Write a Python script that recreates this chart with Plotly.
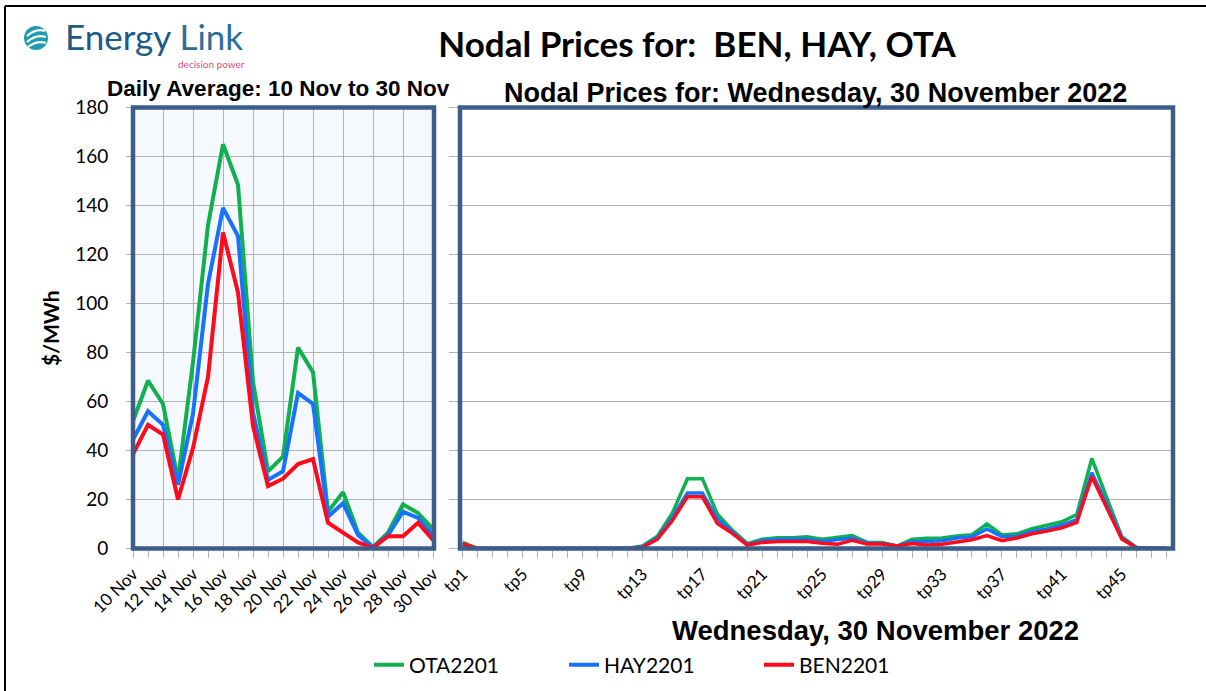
import plotly.graph_objects as go

W, H = 1206, 691


def px(x):
    return x / W


def py(y):
    return 1 - y / H


# ---------------- data ----------------
days = ["10 Nov", "11 Nov", "12 Nov", "13 Nov", "14 Nov", "15 Nov", "16 Nov",
        "17 Nov", "18 Nov", "19 Nov", "20 Nov", "21 Nov", "22 Nov", "23 Nov",
        "24 Nov", "25 Nov", "26 Nov", "27 Nov", "28 Nov", "29 Nov", "30 Nov"]
ota_daily = [52, 68.5, 59, 28, 76, 132, 165, 148.5, 68, 31.5, 37.5, 82, 72,
             15, 23, 6.5, 0.5, 6.5, 18, 14.5, 8]
hay_daily = [44.5, 56, 50.5, 26, 55, 108, 139, 127.5, 55.5, 28, 31.5, 63.5, 59,
             13, 18.5, 5.5, 0.5, 5.5, 15, 12.5, 5.5]
ben_daily = [38.5, 50.5, 46.5, 20, 41, 70, 129, 104.5, 50, 25.5, 28.5, 34.5, 36.5,
             10.5, 6.5, 2.5, 0.3, 5, 5, 10.5, 3.5]

periods = ["tp1", "tp2", "tp3", "tp4", "tp5", "tp6", "tp7", "tp8", "tp9", "tp10",
           "tp11", "tp12", "tp13", "tp14", "tp15", "tp16", "tp17", "tp18", "tp19",
           "tp20", "tp21", "tp22", "tp23", "tp24", "tp25", "tp26", "tp27", "tp28",
           "tp29", "tp30", "tp31", "tp32", "tp33", "tp34", "tp35", "tp36", "tp37",
           "tp38", "tp39", "tp40", "tp41", "tp42", "tp43", "tp44", "tp45", "tp46",
           "tp47", "tp48"]
ota_tp = [2.5, 0, 0, 0, 0, 0, 0, 0, 0, 0, 0, 0, 1, 5, 14.5, 28.5, 28.5, 14, 7.5, 2,
          3.8, 4.4, 4.4, 4.8, 3.8, 4.4, 5.3, 2.5, 2.5, 1, 3.8, 4.2, 4.3, 5.1, 5.6,
          10, 5.5, 6, 8.1, 9.5, 10.9, 13.9, 36.8, 20.7, 4.8, 0.3, 0, 0]
hay_tp = [1.5, 0, 0, 0, 0, 0, 0, 0, 0, 0, 0, 0, 0.7, 4.3, 12.5, 22.7, 22.7, 12, 6.8, 1.6,
          3.2, 3.8, 3.8, 3.8, 3, 3.5, 4.3, 2.2, 2, 1, 2.9, 2.9, 3.2, 4.3, 4.8,
          8, 4.8, 5, 7, 8, 9.5, 11.8, 30.9, 18, 4.3, 0.2, 0, 0]
ben_tp = [2, 0, 0, 0, 0, 0, 0, 0, 0, 0, 0, 0, 0.5, 3.8, 11.4, 21.1, 21.1, 10.2, 6.2, 1.4,
          2.5, 2.9, 2.9, 2.9, 2.1, 1.7, 3.3, 1.8, 1.8, 1, 2, 1.4, 1.7, 2.6, 3.6,
          5.3, 3.2, 4.3, 6, 7.1, 8.4, 10.7, 29.3, 16.6, 3.9, 0.2, 0, 0]

y_ticks = [0, 20, 40, 60, 80, 100, 120, 140, 160, 180]

# ---------------- styles ----------------
GREEN = "#10b04f"
BLUE = "#1672ff"
RED = "#ff0a1a"
FRAME = "#3c5d8a"
GRID = "#b2b2b2"
CAL = "Lato"
ARIAL = "Liberation Sans"

xi_days = list(range(len(days)))
xi_tp = list(range(len(periods)))

fig = go.Figure()

series_daily = [("OTA2201", ota_daily, GREEN), ("HAY2201", hay_daily, BLUE),
                ("BEN2201", ben_daily, RED)]
series_tp = [("OTA2201", ota_tp, GREEN), ("HAY2201", hay_tp, BLUE),
             ("BEN2201", ben_tp, RED)]

for name, vals, col in series_daily:
    fig.add_trace(go.Scatter(x=xi_days, y=vals, mode="lines", name=name,
                             legendgroup=name, line=dict(color=col, width=4),
                             xaxis="x", yaxis="y", showlegend=True))
for name, vals, col in series_tp:
    fig.add_trace(go.Scatter(x=xi_tp, y=vals, mode="lines", name=name,
                             legendgroup=name, line=dict(color=col, width=3.5),
                             xaxis="x2", yaxis="y2", showlegend=False))

y_dom = [py(548.5), py(107.5)]
x1_dom = [px(133), px(433)]
x2_dom = [px(460), px(1173)]
x2_range = [-0.18, 47.42]

fig.update_layout(
    width=W, height=H,
    margin=dict(l=0, r=0, t=0, b=0),
    paper_bgcolor="white",
    plot_bgcolor="rgba(0,0,0,0)",
    title=dict(text="Nodal Prices for:\u00a0 BEN, HAY, OTA", x=px(697), y=py(45),
               xanchor="center", yanchor="middle", xref="paper", yref="paper",
               font=dict(family=CAL, size=35, color="black", weight="bold")),
    xaxis=dict(domain=x1_dom, range=[0, 20], anchor="y", tickmode="array",
               tickvals=xi_days[::2], ticktext=days[::2], tickangle=-45,
               ticks="outside", ticklen=8, tickcolor=GRID, showgrid=True,
               gridcolor=GRID, gridwidth=1, zeroline=False, showline=False,
               minor=dict(ticks="outside", ticklen=8, tickcolor=GRID,
                          tickmode="linear", tick0=0, dtick=1, showgrid=False),
               tickfont=dict(family=CAL, size=17, color="black"), automargin=False),
    yaxis=dict(domain=y_dom, range=[0, 180], anchor="x", tickmode="array",
               tickvals=y_ticks, ticks="outside", ticklen=6, tickcolor=GRID,
               showgrid=True, gridcolor=GRID, gridwidth=1, zeroline=False,
               ticklabelstandoff=14,
               tickfont=dict(family=CAL, size=19, color="black"), automargin=False),
    xaxis2=dict(domain=x2_dom, range=x2_range, anchor="y2", tickmode="array",
                tickvals=xi_tp[::4], ticktext=periods[::4], tickangle=-45,
                ticks="outside", ticklen=8, tickcolor=GRID, showgrid=False,
                zeroline=False, showline=False,
                minor=dict(ticks="outside", ticklen=8, tickcolor=GRID,
                           tickmode="linear", tick0=0, dtick=1, showgrid=False),
                tickfont=dict(family=CAL, size=17, color="black"), automargin=False),
    xaxis3=dict(domain=x2_dom, range=x2_range, anchor="y2", overlaying="x2",
                tickmode="array", tickvals=xi_tp[::8] + [xi_tp[-1]],
                showticklabels=False, ticks="", showgrid=True, gridcolor=GRID,
                gridwidth=1, zeroline=False, showline=False, automargin=False),
    yaxis2=dict(domain=y_dom, range=[0, 180], anchor="x2", tickmode="array",
                tickvals=y_ticks, showticklabels=False, ticks="outside", ticklen=10,
                tickcolor=GRID, showgrid=True, gridcolor=GRID, gridwidth=1,
                zeroline=False, automargin=False),
    legend=dict(orientation="h", x=px(369), y=py(665), xanchor="left",
                yanchor="middle", font=dict(family=CAL, size=21, color="black"),
                entrywidth=150, entrywidthmode="pixels", bgcolor="rgba(0,0,0,0)",
                traceorder="normal"),
    showlegend=True,
)

shapes = [
    # left panel background
    dict(type="rect", xref="paper", yref="paper", x0=x1_dom[0], x1=x1_dom[1],
         y0=y_dom[0], y1=y_dom[1], fillcolor="#f5f8fc", line=dict(width=0),
         layer="below"),
    # frames
    dict(type="rect", xref="paper", yref="paper", x0=x1_dom[0], x1=px(434),
         y0=y_dom[0], y1=y_dom[1], line=dict(color=FRAME, width=4.5),
         fillcolor="rgba(0,0,0,0)", layer="above"),
    dict(type="rect", xref="paper", yref="paper", x0=x2_dom[0], x1=x2_dom[1],
         y0=y_dom[0], y1=y_dom[1], line=dict(color=FRAME, width=4.5),
         fillcolor="rgba(0,0,0,0)", layer="above"),
    # outer border
    dict(type="line", xref="paper", yref="paper", x0=px(5), x1=1.0, y0=py(6), y1=py(6),
         line=dict(color="black", width=2)),
    dict(type="line", xref="paper", yref="paper", x0=px(5), x1=px(5), y0=py(6), y1=0,
         line=dict(color="black", width=2)),
    # logo circle
    dict(type="circle", xref="paper", yref="paper", x0=px(24), x1=px(48),
         y0=py(50), y1=py(26), fillcolor="#1f9db0", line=dict(width=0)),
]


def swoosh(x0, y0, cx, cy, x1, y1):
    return dict(type="path", xref="paper", yref="paper",
                path=f"M {px(x0)},{py(y0)} Q {px(cx)},{py(cy)} {px(x1)},{py(y1)}",
                line=dict(color="white", width=2.2))


shapes += [
    swoosh(27, 36, 36, 28, 45, 31),
    swoosh(27, 42, 36, 34, 46, 37),
    swoosh(28, 47, 37, 40, 46, 43),
]
fig.update_layout(shapes=shapes)

annotations = [
    dict(text="<span style='color:#1c5a87'>Energy</span> <span style='color:#2a6e9b'>Link</span>",
         x=px(63), y=py(36), xanchor="left", yanchor="middle",
         font=dict(family=CAL, size=35)),
    dict(text="decision power", x=px(247), y=py(64.5), xanchor="right", yanchor="middle",
         font=dict(family=CAL, size=10, color="#d4547c")),
    dict(text="Daily Average: 10 Nov to 30 Nov", x=px(278), y=py(88),
         xanchor="center", yanchor="middle",
         font=dict(family=ARIAL, size=22.5, color="black", weight="bold")),
    dict(text="Nodal Prices for: Wednesday, 30 November 2022", x=px(815), y=py(93),
         xanchor="center", yanchor="middle",
         font=dict(family=ARIAL, size=27, color="black", weight="bold")),
    dict(text="Wednesday, 30 November 2022", x=px(875), y=py(630),
         xanchor="center", yanchor="middle",
         font=dict(family=ARIAL, size=27.5, color="black", weight="bold")),
    dict(text="$/MWh", x=px(50), y=py(328), xanchor="center", yanchor="middle",
         textangle=-90, font=dict(family=CAL, size=21, color="black", weight="bold")),
]
for a in annotations:
    a.update(xref="paper", yref="paper", showarrow=False)
fig.update_layout(annotations=annotations)

fig.write_html("out.html",
               config={"displayModeBar": False},
               post_script="document.body.style.margin='0px';"
                           "document.body.style.overflow='hidden';")
